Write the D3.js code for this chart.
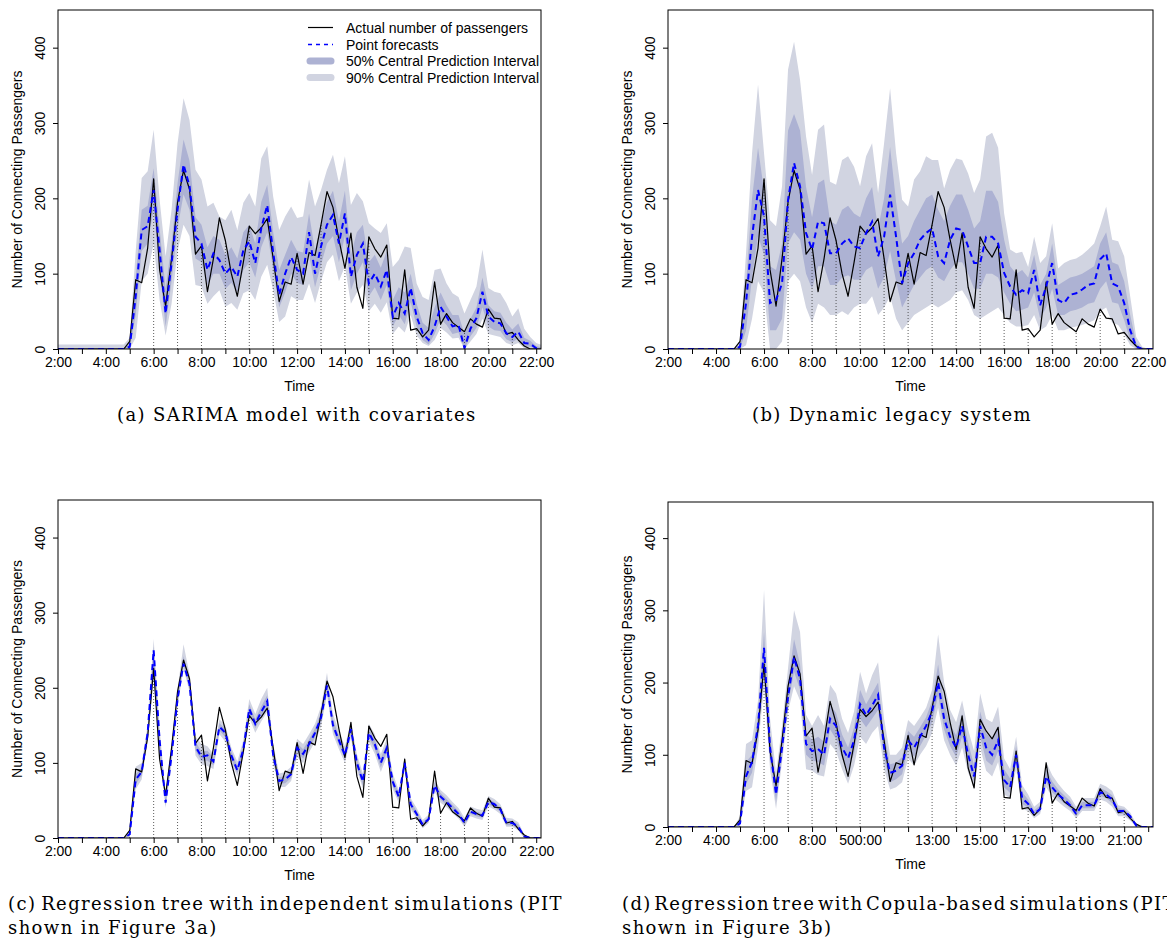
<!DOCTYPE html>
<html>
<head>
<meta charset="utf-8">
<script src="https://cdn.jsdelivr.net/npm/d3@7"></script>
<style>
  body { margin: 0; background: #fff; }
  svg text { font-family: "Liberation Sans", Arial, Helvetica, sans-serif; fill: #000; }
  svg text.cap { font-family: "DejaVu Serif", "Liberation Serif", serif; }
</style>
</head>
<body>
<svg id="fig" width="1167" height="941"></svg>
<script>
// quarter-hour time stamps of the day
var times = ["2:00","2:15","2:30","2:45","3:00","3:15","3:30","3:45","4:00","4:15","4:30","4:45",
  "5:00","5:15","5:30","5:45","6:00","6:15","6:30","6:45","7:00","7:15","7:30","7:45",
  "8:00","8:15","8:30","8:45","9:00","9:15","9:30","9:45","10:00","10:15","10:30","10:45",
  "11:00","11:15","11:30","11:45","12:00","12:15","12:30","12:45","13:00","13:15","13:30","13:45",
  "14:00","14:15","14:30","14:45","15:00","15:15","15:30","15:45","16:00","16:15","16:30","16:45",
  "17:00","17:15","17:30","17:45","18:00","18:15","18:30","18:45","19:00","19:15","19:30","19:45",
  "20:00","20:15","20:30","20:45","21:00","21:15","21:30","21:45","22:00","22:15"];

// actual number of connecting passengers (same in every panel)
var actual = [0,0,0,0,0,0,0,0,0,0,0,0,
  10,92,88,134,226,105,57,120,195,237,212,126,137,76,120,174,144,100,70,115,
  163,153,161,173,120,63,89,86,127,86,128,124,165,209,188,145,107,154,82,54,
  149,133,122,138,41,40,105,25,27,16,25,89,33,47,35,29,23,40,33,29,
  53,41,40,20,22,12,4,0,0,0];

// (a) SARIMA model with covariates
var sarimaPoint = [0,0,0,0,0,0,0,0,0,0,0,0,
  3,70,158,163,211,131,47,114,185,245,216,149,140,105,127,118,100,109,96,131,
  143,114,160,191,128,72,100,122,105,100,155,100,136,165,178,140,180,96,125,140,
  87,100,83,105,43,61,47,81,43,21,12,30,56,43,30,32,1,27,41,76,
  43,36,34,21,16,23,8,7,1,0];
var sarimaHi90 = [6,6,6,6,6,6,6,6,6,6,6,6,
  15,130,227,236,291,198,123,185,273,333,304,238,225,189,194,176,171,185,158,194,
  207,189,253,269,202,158,176,189,174,176,225,189,211,238,258,220,256,191,207,196,
  167,160,154,167,109,118,136,134,87,69,65,105,107,87,74,69,47,65,83,132,
  81,76,74,61,43,54,27,16,8,5];
var sarimaLo90 = [0,0,0,0,0,0,0,0,0,0,0,0,
  0,15,90,100,140,65,18,60,130,165,150,85,83,60,70,78,56,61,52,74,
  78,65,96,112,78,36,43,70,65,65,87,61,90,115,125,90,110,60,75,85,
  50,60,48,62,20,30,22,45,18,8,4,12,28,22,14,15,0,10,20,40,
  20,18,16,8,5,8,1,1,0,0];
var sarimaHi50 = [1,1,1,1,1,1,1,1,1,1,1,1,
  8,95,185,190,240,160,80,140,220,278,250,175,165,135,150,145,125,135,120,155,
  165,140,195,218,155,105,125,145,130,128,180,130,165,195,210,170,210,125,155,165,
  115,125,108,130,65,82,75,100,60,35,28,55,75,58,45,45,20,40,55,95,
  58,50,48,35,26,34,15,11,4,2];
var sarimaLo50 = [0,0,0,0,0,0,0,0,0,0,0,0,
  0,45,130,140,185,105,30,90,160,205,185,120,115,85,100,100,80,88,75,105,
  115,95,135,155,105,55,75,100,88,85,125,82,112,140,150,115,150,78,100,115,
  70,82,65,85,30,45,33,62,30,12,6,20,40,32,20,22,0,17,28,55,
  30,25,24,13,9,14,3,3,0,0];

// (b) Dynamic legacy system
var legacyPoint = [0,0,0,0,0,0,0,0,0,0,0,0,
  3,61,149,211,176,61,65,87,198,247,216,154,132,169,167,127,127,140,147,136,
  134,154,169,123,149,205,149,87,114,127,145,154,160,123,114,145,160,158,136,114,
  114,149,149,140,101,83,72,78,74,105,58,83,114,65,61,72,74,79,85,87,
  119,127,87,83,61,25,3,0,0,0];
var legacyHi90 = [0,0,0,0,0,0,0,0,0,0,0,0,
  12,127,260,351,260,171,163,216,371,408,357,282,231,291,298,222,218,251,256,242,
  216,256,273,207,273,346,260,198,189,225,236,256,251,251,213,238,253,251,233,207,
  225,282,287,267,180,132,127,129,109,149,114,123,167,107,114,118,120,125,132,140,
  163,189,145,143,123,70,16,3,0,0];
var legacyLo90 = [0,0,0,0,0,0,0,0,0,0,0,0,
  0,5,40,90,75,0,0,10,90,100,90,55,35,60,55,45,45,50,45,55,
  60,60,70,45,55,70,40,25,35,45,50,55,60,55,60,65,75,78,65,45,
  40,45,50,55,45,35,30,30,32,45,25,30,45,25,25,28,30,32,35,38,
  50,55,35,32,20,5,0,0,0,0];
var legacyHi50 = [0,0,0,0,0,0,0,0,0,0,0,0,
  5,85,200,267,210,110,105,140,290,312,290,215,175,220,225,170,165,185,190,180,
  175,200,215,160,200,268,195,140,150,170,185,200,205,185,170,190,205,205,185,160,
  170,210,210,195,145,110,100,105,95,125,85,100,140,85,90,95,97,100,105,110,
  140,155,115,112,90,45,8,1,0,0];
var legacyLo50 = [0,0,0,0,0,0,0,0,0,0,0,0,
  0,25,95,150,125,25,25,40,140,155,145,100,80,110,110,85,85,95,98,92,
  92,105,110,80,95,130,90,55,70,85,95,105,110,95,90,105,115,115,100,80,
  80,100,100,95,75,60,50,52,55,75,40,55,80,45,45,50,52,55,60,62,
  80,90,62,60,38,12,1,0,0,0];

// (c) Regression tree, independent simulations
var treeIndPoint = [0,0,0,0,0,0,0,0,0,0,0,0,
  5,78,88,140,250,130,47,110,185,232,205,122,108,110,102,148,140,110,90,118,
  172,152,168,182,110,76,78,85,120,112,125,140,160,203,150,130,110,145,100,75,
  140,125,100,120,75,55,100,45,32,18,25,70,55,48,40,32,20,35,32,30,
  48,45,38,20,20,15,2,0,0,0];
var treeIndHi90 = [0,0,0,0,0,0,0,0,0,0,0,0,
  10,95,100,150,265,145,60,122,198,258,218,135,125,122,112,158,150,120,102,130,
  185,165,185,200,125,86,88,95,132,125,138,152,175,220,165,142,122,155,112,86,
  152,138,112,132,86,64,108,53,40,24,31,78,64,57,48,40,27,42,39,37,
  56,52,45,27,26,21,5,1,0,0];
var treeIndLo90 = [0,0,0,0,0,0,0,0,0,0,0,0,
  1,65,78,128,215,115,40,100,175,225,195,110,98,96,92,138,128,100,82,108,
  160,140,155,168,98,68,68,76,108,100,114,128,148,190,138,118,100,133,90,66,
  128,112,88,108,65,47,92,38,26,13,20,62,47,41,33,26,15,29,26,24,
  42,38,32,15,15,10,0,0,0,0];
var treeIndHi50 = [0,0,0,0,0,0,0,0,0,0,0,0,
  7,85,94,145,255,137,53,116,192,242,211,128,115,116,107,153,145,115,96,124,
  178,158,175,190,117,81,83,90,126,118,131,146,167,210,157,136,116,150,106,80,
  146,131,106,126,80,60,104,49,36,21,28,74,60,52,44,36,23,38,35,33,
  52,48,41,23,23,18,3,0,0,0];
var treeIndLo50 = [0,0,0,0,0,0,0,0,0,0,0,0,
  3,72,83,134,232,122,43,105,180,230,200,116,103,103,97,143,134,105,86,113,
  166,146,161,175,104,72,73,80,114,106,119,134,153,197,144,124,105,139,95,70,
  134,118,94,114,70,51,96,41,29,15,22,66,51,44,36,29,17,32,29,27,
  45,41,35,17,17,12,1,0,0,0];

// (d) Regression tree, Copula-based simulations
var treeCopPoint = [0,0,0,0,0,0,0,0,0,0,0,0,
  5,70,90,140,248,110,45,110,180,235,205,115,105,108,100,150,140,110,95,120,
  170,155,168,183,110,75,78,85,120,110,125,140,160,200,150,125,110,140,100,70,
  140,110,100,120,65,55,100,40,32,18,25,70,55,45,38,30,18,30,30,30,
  48,45,38,22,22,15,2,0,0,0];
var treeCopHi90 = [0,0,0,0,0,0,0,0,0,0,0,0,
  15,115,120,175,328,150,75,140,220,300,270,155,140,155,140,197,185,150,130,160,
  215,185,210,228,150,100,100,110,148,140,152,165,190,267,200,162,145,175,135,105,
  185,150,145,167,95,80,125,58,45,28,35,90,72,60,50,42,28,40,40,40,
  60,56,50,30,28,20,5,1,0,0];
var treeCopLo90 = [0,0,0,0,0,0,0,0,0,0,0,0,
  0,50,55,110,195,80,25,90,160,195,175,80,78,72,70,115,105,80,60,85,
  125,115,130,140,80,52,55,62,95,85,100,112,130,165,120,100,85,110,75,55,
  110,78,70,90,45,40,80,25,22,12,18,55,42,35,28,22,12,22,22,22,
  38,35,28,15,15,9,0,0,0,0];
var treeCopHi50 = [0,0,0,0,0,0,0,0,0,0,0,0,
  9,90,100,155,270,128,60,125,200,260,225,130,120,125,118,170,158,128,110,138,
  190,170,185,200,128,87,89,97,133,125,138,152,175,225,172,142,127,157,117,85,
  160,130,120,140,80,67,112,48,38,23,30,80,63,52,44,36,23,35,35,35,
  54,50,44,26,25,17,3,0,0,0];
var treeCopLo50 = [0,0,0,0,0,0,0,0,0,0,0,0,
  2,60,75,125,215,95,35,98,170,215,190,100,92,90,85,135,122,95,78,102,
  150,138,150,162,95,62,66,73,108,97,112,127,145,182,135,112,97,125,87,62,
  125,92,85,105,55,47,90,32,27,15,21,62,48,40,33,26,15,26,26,26,
  43,40,33,18,18,12,1,0,0,0];

// axis ticks and labels
var hourTicks = [2,3,4,5,6,7,8,9,10,11,12,13,14,15,16,17,18,19,20,21,22];
var evenLabels = [[2,"2:00"],[4,"4:00"],[6,"6:00"],[8,"8:00"],[10,"10:00"],[12,"12:00"],
  [14,"14:00"],[16,"16:00"],[18,"18:00"],[20,"20:00"],[22,"22:00"]];
var copulaLabels = [[2,"2:00"],[4,"4:00"],[6,"6:00"],[8,"8:00"],[10,"500:00"],[13,"13:00"],
  [15,"15:00"],[17,"17:00"],[19,"19:00"],[21,"21:00"]];
var yTicks = [0,100,200,300,400];

var legendLabels = ["Actual number of passengers","Point forecasts",
  "50% Central Prediction Interval","90% Central Prediction Interval"];

var col90 = "#d1d4e1";
var col50 = "#adb2d3";
var axisFont = "14px";

var svg = d3.select("#fig");
svg.append("rect").attr("width",1167).attr("height",941).attr("fill","#fff");

var hours = times.map(function(t){ var p = t.split(":"); return +p[0] + (+p[1]) / 60; });

function drawPanel(p){
  var g = svg.append("g");
  var x = d3.scaleLinear().domain([2, 22.2]).range([p.left, p.right]);
  var y = d3.scaleLinear().domain([0, 450]).range([p.bottom, p.top]);

  var clipId = "clip-" + p.id;
  svg.append("clipPath").attr("id", clipId).append("rect")
    .attr("x", p.left).attr("y", p.top)
    .attr("width", p.right - p.left).attr("height", p.bottom - p.top);

  var plot = g.append("g").attr("clip-path", "url(#" + clipId + ")");

  function band(lo, hi){
    return d3.area()
      .x(function(d, i){ return x(hours[i]); })
      .y0(function(d, i){ return y(lo[i]); })
      .y1(function(d, i){ return y(hi[i]); })(hours);
  }
  plot.append("path").attr("d", band(p.lo90, p.hi90)).attr("fill", col90);
  plot.append("path").attr("d", band(p.lo50, p.hi50)).attr("fill", col50);

  // dotted drop lines at each full hour
  var hourIdx = [];
  hours.forEach(function(h, i){ if (h % 1 === 0 && h >= 5 && actual[i] > 0) hourIdx.push(i); });
  plot.selectAll(".drop").data(hourIdx).enter().append("line")
    .attr("x1", function(i){ return x(hours[i]); })
    .attr("x2", function(i){ return x(hours[i]); })
    .attr("y1", y(0))
    .attr("y2", function(i){ return y(actual[i]); })
    .attr("stroke", "#333").attr("stroke-width", 0.8)
    .attr("stroke-dasharray", "1,2");

  var line = d3.line().x(function(d, i){ return x(hours[i]); }).y(function(d){ return y(d); });
  plot.append("path").attr("d", line(actual))
    .attr("fill", "none").attr("stroke", "#000").attr("stroke-width", 1.2)
    .attr("stroke-linejoin", "round");
  plot.append("path").attr("d", line(p.point))
    .attr("fill", "none").attr("stroke", "#0000ff").attr("stroke-width", 2)
    .attr("stroke-dasharray", "6,4");

  // x axis
  var labelMap = new Map(p.xLabels);
  var xAxis = d3.axisBottom(x).tickValues(hourTicks).tickSize(5).tickPadding(3)
    .tickFormat(function(d){ return labelMap.has(d) ? labelMap.get(d) : ""; });
  var gx = g.append("g").attr("transform", "translate(0," + p.bottom + ")").call(xAxis);
  gx.select(".domain").remove();
  gx.selectAll("text").style("font-size", axisFont).attr("fill", "#000")
    .style("font-family", "'Liberation Sans', Arial, sans-serif");

  // y axis
  var yAxis = d3.axisLeft(y).tickValues(yTicks).tickSize(5);
  var gy = g.append("g").attr("transform", "translate(" + p.left + ",0)").call(yAxis);
  gy.select(".domain").remove();
  gy.selectAll("text")
    .attr("x", 0).attr("y", 0).attr("dy", 0)
    .attr("text-anchor", "middle")
    .attr("transform", "translate(-13,0) rotate(-90)")
    .style("font-size", axisFont).attr("fill", "#000")
    .style("font-family", "'Liberation Sans', Arial, sans-serif");

  // box
  g.append("rect").attr("x", p.left).attr("y", p.top)
    .attr("width", p.right - p.left).attr("height", p.bottom - p.top)
    .attr("fill", "none").attr("stroke", "#000").attr("stroke-width", 1);

  // axis titles
  g.append("text")
    .attr("transform", "translate(" + (p.left - 36) + "," + ((p.top + p.bottom) / 2) + ") rotate(-90)")
    .attr("text-anchor", "middle").style("font-size", axisFont)
    .text("Number of Connecting Passengers");
  g.append("text")
    .attr("x", (p.left + p.right) / 2).attr("y", p.bottom + 42)
    .attr("text-anchor", "middle").style("font-size", axisFont)
    .text("Time");

  if (p.legend){
    var lg = g.append("g");
    var rowY = [27.5, 44.5, 61, 77.5];
    var lx0 = p.left + 250, lx1 = p.left + 275;
    lg.append("line").attr("x1", lx0).attr("x2", lx1).attr("y1", rowY[0]).attr("y2", rowY[0])
      .attr("stroke", "#000").attr("stroke-width", 1.2);
    lg.append("line").attr("x1", lx0).attr("x2", lx1).attr("y1", rowY[1]).attr("y2", rowY[1])
      .attr("stroke", "#0000ff").attr("stroke-width", 1.5).attr("stroke-dasharray", "4,4");
    lg.append("line").attr("x1", lx0 + 2).attr("x2", lx1 - 2).attr("y1", rowY[2]).attr("y2", rowY[2])
      .attr("stroke", col50).attr("stroke-width", 7).attr("stroke-linecap", "round");
    lg.append("line").attr("x1", lx0 + 2).attr("x2", lx1 - 2).attr("y1", rowY[3]).attr("y2", rowY[3])
      .attr("stroke", col90).attr("stroke-width", 7).attr("stroke-linecap", "round");
    lg.selectAll(".lt").data(legendLabels).enter().append("text")
      .attr("x", p.left + 288)
      .attr("y", function(d, i){ return rowY[i] + 5; })
      .style("font-size", axisFont)
      .text(function(d){ return d; });
  }
}

drawPanel({id: "a", left: 58, right: 541, top: 10, bottom: 349,
  point: sarimaPoint, hi90: sarimaHi90, lo90: sarimaLo90, hi50: sarimaHi50, lo50: sarimaLo50,
  xLabels: evenLabels, legend: true});
drawPanel({id: "b", left: 668, right: 1153, top: 10, bottom: 349,
  point: legacyPoint, hi90: legacyHi90, lo90: legacyLo90, hi50: legacyHi50, lo50: legacyLo50,
  xLabels: evenLabels});
drawPanel({id: "c", left: 58, right: 541, top: 500, bottom: 838,
  point: treeIndPoint, hi90: treeIndHi90, lo90: treeIndLo90, hi50: treeIndHi50, lo50: treeIndLo50,
  xLabels: evenLabels});
drawPanel({id: "d", left: 668, right: 1153, top: 502, bottom: 827,
  point: treeCopPoint, hi90: treeCopHi90, lo90: treeCopLo90, hi50: treeCopHi50, lo50: treeCopLo50,
  xLabels: copulaLabels});

// captions: 18px serif, letter spacing fitted so caption (b) spans its width in the reference
var capSize = 18;
var probeStr = "(b) Dynamic legacy system";
var probe = svg.append("text").attr("class", "cap").style("font-size", capSize + "px").text(probeStr);
var capSpacing = Math.max(0, (280 - probe.node().getComputedTextLength()) / probeStr.length);
probe.remove();

function capText(str){
  return svg.append("text").attr("class", "cap")
    .style("font-size", capSize + "px").style("letter-spacing", capSpacing + "px").text(str);
}

function caption(x0, x1, baseline, str, justify){
  if (!justify){
    capText(str).attr("x", x0).attr("y", baseline);
    return;
  }
  var words = str.split(" ");
  var els = words.map(function(w){ return capText(w).attr("y", baseline); });
  var widths = els.map(function(e){ return e.node().getComputedTextLength(); });
  var gap = (x1 - x0 - d3.sum(widths)) / (words.length - 1);
  var cx = x0;
  els.forEach(function(e, i){ e.attr("x", cx); cx += widths[i] + gap; });
}

caption(117, 463, 421, "(a) SARIMA model with covariates", false);
caption(752, 1032, 421, "(b) Dynamic legacy system", false);
caption(8, 563, 910, "(c) Regression tree with independent simulations (PIT", true);
caption(8, 210, 934, "shown in Figure 3a)", false);
caption(622, 1176, 910, "(d) Regression tree with Copula-based simulations (PIT", true);
caption(622, 818, 934, "shown in Figure 3b)", false);
</script>
</body>
</html>
